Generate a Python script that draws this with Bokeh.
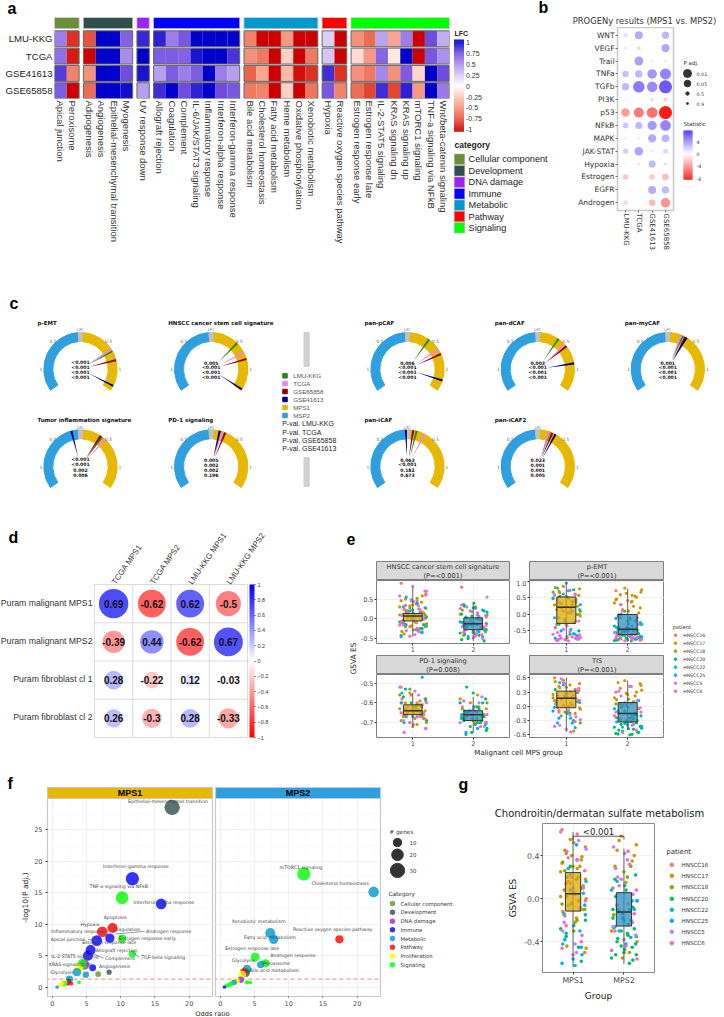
import math
from bokeh.plotting import figure
from bokeh.layouts import column, row
from bokeh.models import (Range1d, FixedTicker, LinearColorMapper, ColorBar, Spacer, LinearAxis)
from bokeh.core.properties import value
from bokeh.embed import file_html
from bokeh.resources import INLINE

SANS = "Liberation Sans"
DJ = "DejaVu Sans"

# ---------- panel a data ----------
A_ROWS = ["LMU-KKG", "TCGA", "GSE41613", "GSE65858"]
A_GROUPS = ["Cellular component", "Development", "DNA damage", "Immune", "Metabolic", "Pathway", "Signaling"]
A_COLORS = ["#6B8E3A", "#2F4F4F", "#A020F0", "#0000FF", "#0099CC", "#FF0000", "#00FF00"]
A_LABELS = [["Apical junction", "Peroxisome"],
            ["Adipogenesis", "Angiogenesis", "Epithelial-mesenchymal transition", "Myogenesis"],
            ["UV response down"],
            ["Allograft rejection", "Coagulation", "Complement", "IL-6/JAK/STAT3 signaling", "Inflammatory response", "Interferon-alpha response", "Interferon-gamma response"],
            ["Bile acid metabolism", "Cholesterol homeostasis", "Fatty acid metabolism", "Heme metabolism", "Oxidative phosphorylation", "Xenobiotic metabolism"],
            ["Hypoxia", "Reactive oxygen species pathway"],
            ["Estrogen response early", "Estrogen response late", "IL-2-STAT5 signaling", "KRAS signaling dn", "KRAS signaling up", "mTORC1 signaling", "TNF-a signaling via NFkB", "Wnt/beta-catenin signaling"]]
A_LMU = [.55, -.85, -.75, 1, 1, .68, .88, .9, .55, .72, 1, 1, 1, 1, -.55, -1, -1, -.45, -1, -1, .22, -1, -.5, -.65, .4, -.4, .55, -1, .75, .35]
A_TCGA = [.62, -.92, -1, 1, 1, .5, 1, .7, .7, .68, .93, 1, 1, .83, -.5, -.6, -1, -.2, -1, -.6, .25, -1, -.15, -.45, .65, -.1, 1, -1, .72, .48]
A_G41 = [.82, -.55, -.5, 1, 1, .75, .93, .42, .7, .55, .7, 1, .55, .42, -.7, -.4, -1, -.3, -.95, -.85, .85, -.85, -.5, -.6, .52, -.5, .7, -.18, 1, .75]
A_G65 = [.7, -1, -.65, 1, 1, .95, .42, .85, 1, .75, .9, 1, .75, .72, -.6, -.55, -1, -.2, -1, -.62, .72, -.55, -.65, -.8, .85, -.8, .9, -.45, 1, .58]

# ---------- panel b data ----------
B_COLS = ["LMU-KKG", "TCGA", "GSE41613", "GSE65858"]
B_ROWS = ["WNT", "VEGF", "Trail", "TNFa", "TGFb", "PI3K", "p53", "NFkB", "MAPK", "JAK-STAT", "Hypoxia", "Estrogen", "EGFR", "Androgen"]
B_STAT = [[1, 3, .3, 2.5], [.8, -1.5, 0, 3], [.2, 3.3, .7, .7], [2.2, 2.5, 3.6, 4.3], [2.4, 4.6, 4, 5.8],
          [-.5, -.1, 1, -1.7], [-3.4, -4.6, -5, -8], [2, 2.5, 3.5, 4.2], [.6, .6, 3, 2.6], [1.7, 3.1, .7, 1.4],
          [-.5, -1, 2.4, .9], [-2, -.2, -1.9, -2.3], [.2, .1, 2.9, 2.4], [-1.5, -.1, -2.4, -3.8]]
B_LOGP = [[.9, 2, .05, 1.8], [.4, .6, 0, 2.1], [0, 2.3, .3, .4], [1.5, 1.8, 2.5, 3], [1.8, 3.2, 2.8, 3.7],
          [.2, .05, .6, .8], [2.2, 2.7, 2.9, 3.7], [1.2, 1.7, 2.4, 2.9], [.3, .3, 2.1, 1.9], [1.1, 2.2, .3, 1],
          [.2, .5, 1.7, .6], [1.2, .05, 1.1, 1.5], [.05, .03, 2, 1.7], [.8, .03, 1.5, 2.5]]

# ---------- panel c data ----------
C_NAMES = ["p-EMT", "HNSCC cancer stem cell signature", "pan-pCAF", "pan-dCAF", "pan-myCAF",
           "Tumor inflammation signature", "PD-1 signaling", "pan-iCAF", "pan-iCAF2"]
C_LMU = [.67, .50, .40, .38, .27, .40, .17, .16, .21]
C_TCGA = [.64, .70, .64, .54, .24, .47, .19, .31, .20]
C_G65 = [.84, .82, .73, .57, .32, .37, .25, .10, .26]
C_G41 = [1.30, 1.37, 1.20, .90, .34, -.16, .15, -.03, .32]
C_P = [["<0.001", "<0.001", "<0.001", "<0.001"], ["0.005", "<0.001", "<0.001", "<0.001"],
       ["0.006", "<0.001", "<0.001", "<0.001"], ["0.003", "<0.001", "<0.001", "<0.001"],
       ["0.001", "<0.001", "<0.001", "<0.001"], ["<0.001", "<0.001", "0.002", "0.006"],
       ["0.005", "0.002", "0.002", "0.196"], ["0.063", "<0.001", "0.182", "0.673"],
       ["0.023", "0.001", "0.001", "0.005"]]
C_LEG = ["LMU-KKG", "TCGA", "GSE65858", "GSE41613", "MPS1", "MSP2"]
C_LEGCOL = ["#228B22", "#EE82EE", "#8B0000", "#00008B", "#E7B800", "#2E9FDF"]
C_PV = ["P-val. LMU-KKG", "P-val. TCGA", "P-val. GSE65858", "P-val. GSE41613"]

# ---------- panel d data ----------
D_COLS = ["TCGA MPS1", "TCGA MPS2", "LMU-KKG MPS1", "LMU-KKG MPS2"]
D_ROWS = ["Puram malignant MPS1", "Puram malignant MPS2", "Puram fibroblast cl 1", "Puram fibroblast cl 2"]
D_VALS = [[.69, -.62, .62, -.5], [-.39, .44, -.62, .67], [.28, -.22, .12, -.03], [.26, -.3, .28, -.33]]

# ---------- patients (panels e, g) ----------
PATIENTS = ["HNSCC16", "HNSCC17", "HNSCC18", "HNSCC20", "HNSCC22", "HNSCC25", "HNSCC5", "HNSCC6"]
PAT_COL = dict(zip("abcdefgh", ["#F8766D", "#CD9600", "#7CAE00", "#00BE67", "#00BFC4", "#00A9FF", "#C77CFF", "#FF61CC"]))

E1G1 = dict(a=[.9, .45, -.2], b=[.62, .5, .42, .35, .3, .25, .2, .15, .12, .08, .05, .02, -.02, -.06, -.1, -.15, -.2, -.28, -.38, .58, .46, .38, .33, .27, .22, .18, .14, .1, .06, .03, 0, -.04, -.08, -.12, -.18, -.24, -.32],
            c=[.38, .18, .1, -.03, -.12, -.25, -.42, .52, .28, .04, -.2, -.35], d=[.22, -.08, -.3, .12, -.15], e=[.3, .04, -.18, .48, .16, -.1, -.28],
            f=[.55, .28, .13, -.05, -.34, -.45, .4, .2, .02, -.15, -.25], g=[.82, .58, .33, .16, -.01, -.16, -.4, .7, .45, .24, .08, -.08, -.3],
            h=[.7, .44, .24, .07, -.09, -.24, -.44, .6, .34, .16, .02, -.16, -.32])
E1G2 = dict(a=[.8, -.3], b=[.2, .05, -.1, -.2, -.35, .12, -.02, -.15, -.28, -.42], c=[.3, .1, -.15, -.25, .22, 0, -.2, -.33],
            d=[.4, .32, .22, .12, .02, -.05, -.12, -.18, -.24, -.3, -.36, -.42, -.5, -.56, .36, .27, .17, .07, -.02, -.09, -.15, -.21, -.27, -.33, -.39, -.46, -.53],
            e=[.1, -.14, -.28, .04, -.22], f=[.28, -.08, -.33, -.45, .2, -.16, -.38], g=[.55, .18, -.02, -.2, -.38, .3, .08, -.1, -.3, -.5],
            h=[.35, .15, -.06, -.16, -.27, -.4, -.48, .26, .06, -.12, -.22, -.34, -.44])
E2G1 = dict(a=[.6, .1], b=[.85, .78, .7, .62, .55, .48, .4, .33, .25, .15, .05, -.05, -.15, -.25, .82, .74, .66, .58, .52, .44, .36, .29, .2, .1, 0, -.1, -.2, -.3],
            c=[.68, .3, .2, 0, -.3, .5, .1, -.15], d=[.75, -.4, -.6, .55, -.5, -.7], e=[.8, .45, -.1, -.45, .62, .15, -.3, -.6],
            f=[.95, .5, .1, -.5, -.65, -.78, .72, .3, -.2, -.58, -.72], g=[.72, .35, -.2, -.35, -.55, -.7, .58, .05, -.45, -.62, -.75],
            h=[.6, .22, -.6, -.68, -.72, -.75, -.78, -.8, -.7, -.76, .4, -.4, -.52, -.64, -.74, -.66, -.79, -.73])
E2G2 = dict(a=[.72, .4], b=[.8, .68, .6, .52, .42, .35, .25, .15, .05, -.05, -.15, .75, .64, .56, .47, .38, .3, .2, .1, 0, -.1, .45, .58], c=[.1, -.3, -.1, -.45],
            d=[-.2, -.35, -.45, -.52, -.58, -.62, -.66, -.7, -.72, -.75, -.78, -.8, -.6, -.68, -.28, -.4, -.48, -.55, -.6, -.64, -.68, -.71, -.74, -.77, -.79, -.5, -.63, -.7, -.76],
            e=[-.1, -.3, -.5, -.2, -.4, -.62], f=[0, -.25, -.42, -.6, -.72, -.12, -.35, -.52, -.66], g=[.3, -.18, -.4, -.55, -.7, .1, -.3, -.48, -.62, -.75],
            h=[-.4, -.6, -.65, -.7, -.74, -.78, -.5, -.62, -.68, -.72, -.76, -.8])
E3G1 = dict(a=[-.52, -.6], b=[-.55, -.58, -.6, -.61, -.62, -.63, -.64, -.65, -.66, -.67, -.68, -.7, -.56, -.59, -.6, -.62, -.63, -.64, -.65, -.66, -.67, -.69, -.71],
            c=[-.53, -.59, -.63, -.66, -.72, -.56, -.61, -.64, -.68], d=[-.57, -.62, -.69, -.6, -.65], e=[-.55, -.61, -.67, -.58, -.64, -.7],
            f=[-.47, -.6, -.64, -.7, -.73, -.53, -.62, -.67], g=[-.52, -.56, -.62, -.65, -.69, -.54, -.6, -.64, -.67],
            h=[-.58, -.63, -.66, -.68, -.71, -.75, -.61, -.65, -.67, -.7, -.73])
E3G2 = dict(a=[-.66], b=[-.56, -.6, -.63, -.65, -.67, -.69, -.58, -.62, -.64, -.66, -.68, -.7], c=[-.6, -.66, -.7, -.63, -.68],
            d=[-.52, -.58, -.62, -.64, -.66, -.68, -.7, -.72, -.74, -.76, -.69, -.55, -.6, -.63, -.65, -.67, -.69, -.71, -.73, -.75, -.7, -.66, -.62],
            e=[-.65, -.71, -.62, -.68], f=[-.6, -.67, -.73, -.64, -.7, -.75], g=[-.57, -.63, -.7, -.6, -.66, -.72],
            h=[-.59, -.64, -.66, -.68, -.72, -.62, -.65, -.67, -.7])
E4G1 = dict(a=[.6, .3], b=[.55, .48, .42, .36, .3, .25, .2, .15, .1, .05, 0, -.06, -.12, -.52, .52, .45, .39, .33, .27, .22, .17, .12, .07, .02, -.03, -.09, -.15],
            c=[.4, .18, .02, -.2, .29, .1, -.1, -.35], d=[.22, -.3, .35, -.15], e=[.5, .12, -.15, -.35, .32, -.02, -.25], f=[.45, .08, -.25, -.45, .27, -.1, -.35],
            g=[.58, .33, .14, -.08, -.28, .47, .24, .05, -.18, -.4], h=[.38, .2, -.02, -.22, -.42, -.54, .5, .12, -.12, -.32, -.48])
E4G2 = dict(a=[.3, -.2], b=[.54, .44, .38, .3, .25, .18, .1, .02, -.05, .5, .42, .34, .28, .22, .14, .06, -.02, .48], c=[.15, -.15, -.3, .05, -.22],
            d=[-.1, -.2, -.28, -.35, -.4, -.44, -.48, -.52, -.55, -.58, -.6, -.46, -.3, -.15, -.24, -.32, -.38, -.42, -.47, -.5, -.54, -.57, -.59, -.36, -.44],
            e=[.05, -.18, -.36, -.05, -.27, -.44], f=[.12, -.1, -.25, -.42, .02, -.18, -.33], g=[.42, .22, -.03, -.32, .32, .12, -.12, -.4],
            h=[.08, -.12, -.26, -.5, -.02, -.2, -.38, -.55])
GG1 = dict(a=[.64, .6], b=[.55, .48, .42, .36, .3, .25, .2, .16, .12, .08, .04, 0, -.04, -.08, -.12, -.18, -.44, -.5, .52, .45, .39, .33, .28, .22, .18, .14, .1, .06, .02, -.02, -.06, -.1, -.15, -.22, -.46, .4, .3],
           c=[.34, .18, .02, -.1, -.3, .26, .1, -.05, -.2], d=[.3, -.2, -.35, -.58, .1, -.28, -.45], e=[.28, .05, -.14, -.62, .16, -.05, -.3, -.42],
           f=[.5, .2, -.06, -.25, -.38, -.52, -.6, .36, .08, -.15, -.32, -.45, -.56], g=[.62, .54, .38, .1, -.22, -.42, .46, .2, -.1, -.3, -.5],
           h=[.44, .26, .06, -.16, -.34, -.46, .36, .14, -.02, -.25, -.4, -.52])
GG2 = dict(a=[.1, -.05], b=[.58, .5, .45, .35, .25, -.3, -.5, .54, .4, .3, .15, -.4, -.55], c=[.3, -.15, .2, -.1],
           d=[.22, .12, .02, -.08, -.18, -.24, -.3, -.35, -.4, -.45, -.5, -.55, -.6, -.12, -.28, .18, .08, -.02, -.14, -.2, -.27, -.32, -.37, -.42, -.47, -.52, -.57, -.1, -.34, -.44, -.52],
           e=[.16, -.02, -.2, .08, -.1, -.3], f=[-.1, -.26, -.42, -.02, -.18, -.36], g=[.48, .36, .2, -.34, .42, .28, .04, -.26],
           h=[.44, .18, .08, -.06, -.22, -.38, -.48, .32, .12, -.14, -.3, -.44, -.56])
JITTER = [-.8, .3, -.2, .9, -.5, .6, 0, -.9, .4, -.35, .75, -.65, .15, .95, -.1, .5, -.75, .25, -.45, .85, .05, -.6, .65]

# quartile summaries: [q1, median, q3, low whisker, high whisker]
E1Q = [[-.055, .07, .135, -.45, .80], [-.277, -.126, .025, -.56, .395]]
E2Q = [[-.27, .22, .53, -.8, .99], [-.61, -.45, 0, -.82, .78]]
E3Q = [[-.66, -.64, -.61, -.72, -.55], [-.69, -.66, -.64, -.75, -.57]]
E4Q = [[-.03, .17, .32, -.54, .6], [-.33, -.15, .08, -.5, .54]]
GQ = [[-.115, .047, .242, -.636, .62], [-.254, -.124, .056, -.605, .465]]

# ---------- panel f data ----------
F_CATS = ["Cellular component", "Development", "DNA damage", "Immune", "Metabolic", "Pathway", "Proliferation", "Signaling"]
F_COLS = ["#6B8E23", "#2F4F4F", "#A020F0", "#0000FF", "#0099CC", "#FF0000", "#FFFF00", "#00FF00"]
F1_X = [17.5, 11.7, 10.2, 15.9, 8.8, 7.3, 8.4, 10.2, 6.5, 5.6, 5.2, 4.7, 4.4, 3.9, 11.7, 5.9, 3.6, 4.9, 6.7, 8.3, 2.5, 2.4, 2.8, 2.3, 1.9, 1.7, 1.5, 1.2, .7, 3.9]
F1_Y = [28.5, 17.2, 14.2, 13.2, 9.4, 8.8, 7.8, 7.7, 7.4, 5.9, 5.0, 3.6, 3.7, 3.1, 5.3, 3.1, 2.4, 2.0, 2.1, 2.4, 1.3, 1.0, .6, .6, .8, .6, .6, .4, .05, .8]
F1_N = [35, 26, 24, 17, 15, 17, 13, 10, 17, 15, 15, 15, 14, 10, 8, 7, 10, 6, 5, 4, 8, 4, 2, 3, 3, 5, 3, 3, 2, 2]
F1_C = [1, 3, 7, 3, 5, 5, 3, 7, 3, 3, 3, 2, 7, 6, 7, 3, 4, 4, 0, 1, 4, 1, 5, 5, 6, 7, 6, 6, 4, 7]
F2_X = [12.2, 22.4, 7.3, 7.8, 17.4, 5.1, 6.6, 5.9, 3.9, 3.7, 3.4, 3.2, 3.0, 2.4, 2.0, 1.5, 1.0, .6, 3.9, 4.4]
F2_Y = [17.95, 15.1, 8.6, 7.6, 7.6, 4.8, 3.8, 3.6, 2.9, 2.3, 2.5, 2.0, 1.2, 1.0, .8, .5, .3, .05, .8, .8]
F2_N = [26, 17, 15, 13, 10, 12, 10, 8, 11, 11, 6, 9, 6, 6, 5, 4, 3, 2, 3, 2]
F2_C = [7, 4, 4, 4, 5, 7, 7, 4, 4, 1, 5, 6, 2, 6, 4, 7, 7, 3, 7, 7]
F1_LAB = ["Epithelial-mesenchymal transition", "Interferon-gamma response", "TNF-a signaling via NFkB", "Interferon-alpha response", "Apoptosis", "Hypoxia", "Inflammatory response", "Coagulation", "Androgen response", "Apical junction", "Estrogen response early", "Estrogen response late", "Allograft rejection", "IL-2-STAT5 signaling", "Complement", "TGF-beta signaling", "KRAS signaling dn", "Angiogenesis", "Glycolysis"]
F1_LX = [16.9, 12.2, 9.7, 16.3, 9.2, 5.5, 3.8, 10.8, 17.0, 2.3, 13.9, 8.3, 9.4, 3.3, 9.9, 16.2, 2.6, 9.1, 1.4]
F1_LY = [29.4, 19.1, 16.0, 13.5, 11.0, 9.9, 8.8, 9.2, 8.9, 7.6, 7.8, 7.05, 5.9, 4.9, 4.6, 4.8, 3.6, 3.3, 2.3]
F2_LAB = ["mTORC1 signaling", "Cholesterol homeostasis", "Xenobiotic metabolism", "Reactive oxygen species pathway", "Fatty acid metabolism", "Estrogen response late", "Androgen response", "Glycolysis", "Peroxisome", "Bile acid metabolism"]
F2_LX = [11.8, 17.5, 5.6, 16.4, 7.25, 4.65, 10.6, 3.4, 8.2, 7.9]
F2_LY = [18.95, 16.5, 10.4, 9.2, 7.9, 6.2, 5.1, 4.25, 3.8, 2.7]
F_GENES = [10, 20, 30]


def lerp_hex(a, b, t):
    ca = [int(a[i:i + 2], 16) for i in (1, 3, 5)]
    cb = [int(b[i:i + 2], 16) for i in (1, 3, 5)]
    return "#%02X%02X%02X" % tuple(round(x + (y - x) * t) for x, y in zip(ca, cb))


def stops_color(v, stops):
    v = min(max(v, stops[0][0]), stops[-1][0])
    for (v0, c0), (v1, c1) in zip(stops, stops[1:]):
        if v <= v1:
            return lerp_hex(c0, c1, (v - v0) / (v1 - v0))
    return stops[-1][1]


HEAT = [(-1, "#CC0000"), (-.75, "#E8573E"), (-.5, "#F4917A"), (-.25, "#FDC5B6"), (0, "#FFFFFF"),
        (.25, "#D5C8F6"), (.5, "#A88CEB"), (.75, "#7350DE"), (1, "#0000CC")]
heat_pal = [stops_color(-1 + 2 * i / 100, HEAT) for i in range(101)]
heat_map = LinearColorMapper(palette=heat_pal, low=-1, high=1)
STAT = [(-8.3, "#FF1010"), (0, "#FFFFFF"), (7.6, "#3F24FF")]
COR = [(-1, "#FF0000"), (0, "#FFFFFF"), (1, "#0000FF")]
cor_pal = [stops_color(-1 + 2 * i / 100, COR) for i in range(101)]
cor_map = LinearColorMapper(palette=cor_pal, low=-1, high=1)


def canvas(x0, y0, x1, y1):
    p = figure(width=x1 - x0, height=y1 - y0, x_range=Range1d(x0, x1), y_range=Range1d(-y1, -y0),
               toolbar_location=None, output_backend="svg", min_border=0, tools="",
               x_axis_type=None, y_axis_type=None)
    p.outline_line_color = None
    return p


def T(p, x, y, s, size=7, font=SANS, color="#222222", align="left", weight="normal", angle=0):
    p.text(x=[x], y=[-y], text=[s], text_font=value(font), text_font_size=f"{size}px", text_align=align,
           text_baseline="middle", text_color=color, text_font_style=weight, angle=angle)


def plot(w, h, l, r, t, b, xr, yr):
    p = figure(width=w, height=h, min_border_left=l, min_border_right=r, min_border_top=t, min_border_bottom=b,
               x_range=Range1d(*xr), y_range=Range1d(*yr), toolbar_location=None, output_backend="svg", tools="")
    return p


def style(ax, size, color="#4d4d4d", font=DJ, tick="#333333", tlen=2):
    ax.major_label_text_font_size = f"{size}px"
    ax.major_label_text_font = font
    ax.major_label_text_color = color
    ax.axis_line_color = None
    ax.major_tick_line_color = tick
    ax.major_tick_out = tlen
    ax.major_tick_in = 0
    ax.minor_tick_line_color = None
    ax.major_label_standoff = 1


def ticks(ax, vals, labels):
    ax.ticker = FixedTicker(ticks=vals)
    ax.major_label_overrides = dict(zip(vals, labels))


def L(p, x, y, s):
    T(p, x, y, s, 16, SANS, "#000000", weight="bold")


def vbar_legend(p, x0, x1, ytop, ybot, v_at_top, v_at_bot, stops):
    n = int(ybot - ytop)
    tops = [ytop + (ybot - ytop) * i / n for i in range(n)]
    cols = [stops_color(v_at_top + (v_at_bot - v_at_top) * (i + .5) / n, stops) for i in range(n)]
    p.quad(left=[x0] * n, right=[x1] * n, top=[-t for t in tops], bottom=[-(t + (ybot - ytop) / n + .2) for t in tops],
           fill_color=cols, line_color=None)


# ================= panel a =================
a_top = canvas(0, 0, 450, 17)
L(a_top, 7, 8, "a")
pa = plot(450, 273, 54, 1, 0, 192, (0, 32.1), (-.45, 4.23))
pa.grid.visible = False
pa.outline_line_color = None
xpos, groups_x, off = [], [], 0.0
for g in A_LABELS:
    s = off
    for _ in g:
        xpos.append(round(off + .5, 2))
        off += 1
    groups_x.append((s, off))
    off += .35
for ri, vals in enumerate([A_LMU, A_TCGA, A_G41, A_G65]):
    y = 3 - ri
    pa.rect(x="x", y="y", width=1.0, height=.92, fill_color={"field": "v", "transform": heat_map},
            line_color=None, source=dict(x=xpos, y=[y] * 30, v=vals))
    pa.quad(left=[g[0] for g in groups_x], right=[g[1] for g in groups_x], top=[y + .46] * 7, bottom=[y - .46] * 7,
            fill_color=None, line_color="#666666", line_width=1)
pa.quad(left=[g[0] for g in groups_x], right=[g[1] for g in groups_x], top=[3.91 + .32] * 7, bottom=[3.91 - .32] * 7,
        fill_color=A_COLORS, line_color="#bbbbbb", line_width=.8)
style(pa.xaxis[0], 9.5, "#333333", SANS, None, 0)
ticks(pa.xaxis[0], xpos, [s for g in A_LABELS for s in g])
pa.xaxis[0].major_label_orientation = "vertical"
pa.xaxis[0].major_label_standoff = 2
style(pa.yaxis[0], 9.6, "#222222", SANS, None, 0)
ticks(pa.yaxis[0], [3, 2, 1, 0], A_ROWS)
pa.yaxis[0].major_label_standoff = 2

al = canvas(450, 0, 562, 290)
T(al, 454, 33, "LFC", 7, weight="bold")
vbar_legend(al, 453.5, 463.5, 39, 131, 1.07, -1.05, HEAT)
tv = ["1", "0.75", "0.5", "0.25", "0", "-0.25", "-0.5", "-0.75", "-1"]
for i, s in enumerate(tv):
    T(al, 465.5, 42 + i * 10.9, s, 7, SANS, "#333333")
T(al, 454, 144, "category", 8.5, weight="bold")
cat_y = [158.7, 170.3, 181.7, 193.3, 204.7, 216, 227.3]
al.rect(x=[459] * 7, y=[-v for v in cat_y], width=10.5, height=10.5, fill_color=A_COLORS, line_color="#bbbbbb", line_width=.6)
for y, s in zip(cat_y, A_GROUPS):
    T(al, 468, y, s, 9.2, color="#222222")
L(al, 538, 7, "b")

# ================= panel b =================
bt = canvas(562, 0, 724, 27)
T(bt, 644, 20, "PROGENy results (MPS1 vs. MPS2)", 8.4, DJ, "#333333", "center")
pb = plot(114, 263, 55, 3, 0, 80, (.4, 4.6), (.4, 14.6))
pb.grid.visible = False
pb.outline_line_color = "#c8c8c8"
pb.outline_line_width = 1.5
bx, by, br, bc = [], [], [], []
for i, name in enumerate(B_ROWS):
    for j in range(4):
        bx.append(j + 1)
        by.append(14 - i)
        br.append(2 * (1 + 1.5 * B_LOGP[i][j]))
        bc.append(stops_color(B_STAT[i][j], STAT))
pb.scatter(bx, by, size=br, fill_color=bc, line_color=None, marker="circle")
style(pb.xaxis[0], 7, "#333333", DJ, "#666666", 2)
ticks(pb.xaxis[0], [1, 2, 3, 4], B_COLS)
pb.xaxis[0].major_label_orientation = "vertical"
style(pb.yaxis[0], 7.5, "#333333", DJ, "#666666", 2)
ticks(pb.yaxis[0], list(range(14, 0, -1)), B_ROWS)
bl = canvas(676, 27, 724, 290)
T(bl, 683, 62, "P adj.", 5.5, DJ, "#333333")
leg_y = [73, 83, 93, 103]
bl.scatter([687] * 4, [-v for v in leg_y], size=[8, 6.6, 3.4, 2], color="#333333", marker="circle")
for y, s in zip(leg_y, ["0.01", "0.05", "0.5", "0.9"]):
    T(bl, 696, y, s, 4.8, DJ, "#333333")
T(bl, 683, 123, "Statistic", 5.5, DJ, "#333333")
vbar_legend(bl, 683, 692, 130, 179, 7.6, -8.3, STAT)
for y, s in zip([141, 153, 165, 178], ["4", "0", "-4", "-8"]):
    T(bl, 696, y, s, 4.8, DJ, "#333333")

# ================= panel c =================
pc = canvas(0, 290, 724, 515)
L(pc, 9, 303, "c")
C_POS = [(80, 368.7), (210.7, 368.7), (407, 368.7), (537.3, 368.7), (667.3, 368.7),
         (80, 466), (210.7, 466), (407, 466), (537.3, 466)]
NEEDLE = ["#228B22", "#EE82EE", "#8B0000", "#00008B"]
R0, R1 = 27.7, 36.7
for k, (cx, cy) in enumerate(C_POS):
    d2r = math.pi / 180
    pc.annular_wedge(x=[cx], y=[-cy], inner_radius=R0, outer_radius=R1, start_angle=93.5 * d2r, end_angle=215 * d2r, color="#2E9FDF", direction="anticlock")
    pc.annular_wedge(x=[cx], y=[-cy], inner_radius=R0, outer_radius=R1, start_angle=-35 * d2r, end_angle=86.5 * d2r, color="#E7B800", direction="anticlock")
    pc.annular_wedge(x=[cx], y=[-cy], inner_radius=R0, outer_radius=R1, start_angle=86.5 * d2r, end_angle=93.5 * d2r, color="#C0C0C0", direction="anticlock")
    for lfc, col in zip([C_LMU[k], C_TCGA[k], C_G65[k], C_G41[k]], NEEDLE):
        a = lfc * 90 * d2r
        dx, dy = math.sin(a), math.cos(a)
        nx, ny = dy, -dx
        px0, py0 = cx + dx * 9.5, -cy + dy * 9.5
        px1, py1 = cx + dx * R1, -cy + dy * R1
        pc.patch([px0, px1 + nx * 1.1, px1 - nx * 1.1], [py0, py1 + ny * 1.1, py1 - ny * 1.1], color=col, line_color=None)
    T(pc, cx - 43, cy - 46.7, C_NAMES[k], 5.5, DJ, "#111111", weight="bold")
    T(pc, cx, cy - 39.5, "LFC", 3.8, DJ, "#666666", "center")
    T(pc, cx - 27.5, cy - 27.8, "0.5", 4.4, DJ, "#666666", "center")
    T(pc, cx + 28, cy - 27.8, "0.5", 4.4, DJ, "#666666", "center")
    T(pc, cx - 39.5, cy, "1", 4.4, DJ, "#666666", "center")
    T(pc, cx + 39.5, cy, "1", 4.4, DJ, "#666666", "center")
    for o, s in zip([-6.7, -1.7, 3.3, 8.3], C_P[k]):
        T(pc, cx, cy + o, s, 4.6, DJ, "#111111", "center", "bold")
pc.quad(left=[303.5, 303.5], right=[308.7, 308.7], top=[-332, -457], bottom=[-366, -486], color="#D0D0D0")
for y, s, col in zip([375.3, 383, 391, 399, 407, 415], C_LEG, C_LEGCOL):
    pc.rect(x=[284.5], y=[-y], width=4.5, height=4.5, color=col)
    T(pc, 292.7, y, s, 6.2, SANS, "#555555")
for y, s in zip([423.3, 431.7, 440, 448.3], C_PV):
    T(pc, 281.7, y, s, 7, SANS, "#222222")

# ================= panel d =================
dl = canvas(0, 515, 94, 770)
L(dl, 8, 537, "d")
for i, s in enumerate(D_ROWS):
    T(dl, 92, 584 + 38.25 * (i + .5) - 1, s, 8.7, SANS, "#333333", "right")
pd_ = plot(248, 255, 0, 95, 69, 33, (0, 4), (0, 4))
pd_.grid.visible = False
pd_.outline_line_color = "#dcdcdc"
pd_.xaxis[0].visible = False
pd_.yaxis[0].visible = False
top_ax = LinearAxis()
pd_.add_layout(top_ax, "above")
style(top_ax, 8, "#333333", SANS, None, 0)
ticks(top_ax, [.5, 1.5, 2.5, 3.5], D_COLS)
top_ax.major_label_orientation = math.radians(55)
pd_.segment(x0=[1, 2, 3, 0, 0, 0], y0=[0, 0, 0, 1, 2, 3], x1=[1, 2, 3, 4, 4, 4], y1=[4, 4, 4, 1, 2, 3], color="#dcdcdc", line_width=1)
dx, dy, dv, ds = [], [], [], []
for i in range(4):
    for j in range(4):
        dx.append(j + .5)
        dy.append(3.5 - i)
        dv.append(D_VALS[i][j])
        ds.append(2 * 17.7 * math.sqrt(abs(D_VALS[i][j])))
pd_.scatter("x", "y", size="s", marker="circle", line_color=None, fill_color={"field": "v", "transform": cor_map},
            source=dict(x=dx, y=dy, v=dv, s=ds))
pd_.text(x=dx, y=dy, text=[("%.2f" % v).rstrip("0") for v in dv], text_font=value(SANS), text_font_style="bold",
         text_font_size="10px", text_align="center", text_baseline="middle", text_color="#111111")
pd_.add_layout(ColorBar(color_mapper=cor_map, ticker=FixedTicker(ticks=[-1, -.8, -.6, -.4, -.2, 0, .2, .4, .6, .8, 1]),
                        location=(155, 0), width=5, height=153, padding=0, margin=0, major_label_text_font=SANS,
                        major_label_text_font_size="5.5px", major_label_text_color="#333333", major_tick_line_color="#333333", major_tick_out=1, major_tick_in=0,
                        bar_line_color=None, border_line_color=None, background_fill_color=None, label_standoff=2))


# ================= helpers for jitter + boxes =================
def pts(D, xc, hw):
    xs, ys, cs = [], [], []
    i = 0
    for k in "abcdefgh":
        for v in D.get(k, []):
            xs.append(xc + JITTER[i % len(JITTER)] * hw)
            ys.append(v)
            cs.append(PAT_COL[k])
            i += 1
    return xs, ys, cs


def draw_group(p, D1, D2, Q, size, hw, box):
    for D, xc in ((D1, 1), (D2, 2)):
        xs, ys, cs = pts(D, xc, hw)
        p.scatter(xs, ys, size=size, color=cs, marker="circle", line_color=None)
    p.segment(x0=[1, 2], x1=[1, 2], y0=[q[3] for q in Q], y1=[q[4] for q in Q], color="#555555", line_width=.9)
    p.quad(left=[1 - box, 2 - box], right=[1 + box, 2 + box], bottom=[q[0] for q in Q], top=[q[2] for q in Q],
           fill_color=["#D9A90A", "#2A8FC0"], fill_alpha=.75, line_color="#333333", line_width=1)
    p.segment(x0=[1 - box, 2 - box], x1=[1 + box, 2 + box], y0=[q[1] for q in Q], y1=[q[1] for q in Q], color="#333333", line_width=1.5)


# ================= panel e =================
el = canvas(342, 515, 357, 770)
L(el, 346, 538, "e")
T(el, 352.5, 658, "GSVA ES", 7.5, DJ, "#222222", "center", angle=math.pi / 2)


def facet(w, left, right, bottom, yr, yt, ytl, t1, t2, D1, D2, Q):
    h = figure(width=w, height=19, min_border_left=left, min_border_right=right, min_border_top=0, min_border_bottom=0,
               x_range=Range1d(0, 1), y_range=Range1d(0, 1), toolbar_location=None, output_backend="svg", tools="",
               x_axis_type=None, y_axis_type=None, background_fill_color="#D9D9D9")
    h.outline_line_color = "#7f7f7f"
    h.text(x=[.5, .5], y=[.72, .26], text=[t1, t2], text_font=value(DJ), text_font_size="6.6px", text_align="center",
           text_baseline="middle", text_color="#333333")
    p = plot(w, 63 + bottom, left, right, 0, bottom, (.4, 2.6), yr)
    p.outline_line_color = "#7f7f7f"
    p.grid.grid_line_color = "#ebebeb"
    p.grid.grid_line_width = .7
    style(p.xaxis[0], 6.5, "#4d4d4d", DJ, "#333333", 2)
    ticks(p.xaxis[0], [1, 2], ["1", "2"])
    style(p.yaxis[0], 6.5, "#4d4d4d", DJ, "#333333", 2)
    ticks(p.yaxis[0], yt, ytl)
    draw_group(p, D1, D2, Q, 3.2, .24, .155)
    return column(h, p)


f1 = facet(153, 15, 1, 12, (-.626, .97), [.5, 0, -.5], ["0.5", "0.0", "-0.5"], "HNSCC cancer stem cell signature", "(P=<0.001)", E1G1, E1G2, E1Q)
f2 = facet(154, 17, 0, 12, (-.88, 1.03), [1, .5, 0, -.5], ["1.0", "0.5", "0.0", "-0.5"], "p-EMT", "(P=<0.001)", E2G1, E2G2, E2Q)
f3 = facet(153, 15, 1, 11, (-.776, -.456), [-.5, -.6, -.7], ["-0.5", "-0.6", "-0.7"], "PD-1 signaling", "(P=0.008)", E3G1, E3G2, E3Q)
f4 = facet(154, 17, 0, 11, (-.656, .67), [.6, .3, 0, -.3, -.6], ["0.6", "0.3", "0.0", "-0.3", "-0.6"], "TIS", "(P=<0.001)", E4G1, E4G2, E4Q)
ele = canvas(664, 561, 724, 748)
T(ele, 672, 626, "patient", 5.2, DJ, "#333333")
ey = [634.7, 642.7, 650.7, 658.7, 666.7, 674.7, 682.7, 690.7]
ele.scatter([675] * 8, [-v for v in ey], size=2.6, color=[PAT_COL[k] for k in "abcdefgh"], marker="circle")
for y, s in zip(ey, PATIENTS):
    T(ele, 682.7, y, s, 4.6, DJ, "#333333")
ebot = canvas(357, 748, 724, 770)
T(ebot, 518, 752, "Malignant cell MPS group", 7, DJ, "#222222", "center")
e_main = column(Spacer(width=367, height=46), row(column(f1, f3), column(f2, f4), column(ele)), column(ebot))


# ================= panel f =================
def f_header(x0, x1, fx0, fx1, col, text):
    h = canvas(x0, 770, x1, 798)
    h.quad(left=[fx0], right=[fx1], top=[-787], bottom=[-798], fill_color=col, line_color="#c8c8c8", line_width=1.2)
    T(h, (fx0 + fx1) / 2, 792.5, text, 9, SANS, "#000000", "center", "bold")
    return h


def f_plot(w, l, r, X, Y, N, C, LAB, LX, LY, show_y):
    p = plot(w, 210, l, r, 0, 9, (-.7, 23.4), (-1.45, 29.9))
    p.outline_line_color = "#c8c8c8"
    p.outline_line_width = 1.2
    p.grid.grid_line_color = "#e8e8e8"
    p.grid.grid_line_width = .6
    p.grid.minor_grid_line_color = "#f3f3f3"
    p.grid.minor_grid_line_width = .4
    style(p.xaxis[0], 6.5, "#4d4d4d", DJ, "#333333", 1)
    p.xaxis[0].major_label_standoff = 0
    p.xaxis[0].ticker = FixedTicker(ticks=[0, 5, 10, 15, 20], minor_ticks=[2.5, 7.5, 12.5, 17.5, 22.5])
    style(p.yaxis[0], 6.5, "#4d4d4d", DJ, "#333333", 2)
    p.yaxis[0].ticker = FixedTicker(ticks=[0, 5, 10, 15, 20, 25], minor_ticks=[2.5, 7.5, 12.5, 17.5, 22.5, 27.5])
    p.yaxis[0].visible = show_y
    if show_y:
        p.yaxis[0].axis_label = "-log10(P adj.)"
        p.yaxis[0].axis_label_text_font = DJ
        p.yaxis[0].axis_label_text_font_size = "7.5px"
        p.yaxis[0].axis_label_text_font_style = "normal"
        p.yaxis[0].axis_label_text_color = "#222222"
        p.yaxis[0].axis_label_standoff = 1
    p.segment(x0=[-1], x1=[24], y0=[1.3], y1=[1.3], color="#FF8080", line_width=1.2, line_dash="4 3", line_alpha=.8)
    p.scatter(X, Y, size=[2 * 1.3 * math.sqrt(n) for n in N], color=[F_COLS[c] for c in C], marker="circle", line_color=None, alpha=.8)
    p.text(x=LX, y=LY, text=LAB, text_font=value(DJ), text_font_size="4.7px", text_align="center", text_baseline="middle", text_color="#444444")
    return p


pf1 = f_plot(214, 47, 2, F1_X, F1_Y, F1_N, F1_C, F1_LAB, F1_LX, F1_LY, True)
pf1.segment(x0=[13.5, 5.2, 7.5, 12.65], y0=[8.87, 7.6, 4.6, 4.8], x1=[9.25, 6.5, 5.35, 11.7], y1=[8.45, 7.4, 5.6, 5.6], color="#555555", line_width=.6)
pf2 = f_plot(168, 1, 2, F2_X, F2_Y, F2_N, F2_C, F2_LAB, F2_LX, F2_LY, False)
h1 = f_header(0, 214, 47, 212, "#E7B800", "MPS1")
L(h1, 7, 783, "f")
h2 = f_header(214, 382, 215, 380, "#2E9FDF", "MPS2")
fbot = canvas(0, 1008, 382, 1017)
T(fbot, 212, 1010.5, "Odds ratio", 6.6, DJ, "#222222", "center")
f_main = column(row(column(column(h1), pf1), column(column(h2), pf2)), column(fbot))

fl = canvas(382, 770, 478, 1017)
L(fl, 458, 784, "g")
T(fl, 388.7, 831, "# genes", 5.8, DJ, "#333333")
for y, n in zip([842, 854.3, 870], F_GENES):
    fl.scatter([397], [-y], size=2 * 1.3 * math.sqrt(n), color="#333333", marker="circle")
    T(fl, 409, y, str(n), 5.4, DJ, "#333333")
T(fl, 388, 893, "Category", 5.8, DJ, "#333333")
cy = [903, 911.7, 920.7, 929.3, 938, 946.7, 955.3, 964.3]
fl.scatter([392] * 8, [-v for v in cy], size=5.4, color=F_COLS, alpha=.8, marker="circle", line_color=None)
for y, s in zip(cy, F_CATS):
    T(fl, 400, y, s, 5.3, DJ, "#333333")

# ================= panel g =================
gt = canvas(478, 770, 724, 823)
T(gt, 599, 813, "Chondroitin/dermatan sulfate metabolism", 10, DJ, "#222222", "center")
pg = plot(186, 194, 64, 10, 0, 45, (.4, 2.6), (-.685, .698))
pg.outline_line_color = "#8a8a8a"
pg.outline_line_width = 1
pg.grid.grid_line_color = "#ebebeb"
pg.grid.grid_line_width = .7
style(pg.xaxis[0], 7.8, "#4d4d4d", DJ, "#333333", 2)
ticks(pg.xaxis[0], [1, 2], ["MPS1", "MPS2"])
style(pg.yaxis[0], 7.8, "#4d4d4d", DJ, "#333333", 2)
ticks(pg.yaxis[0], [.4, 0, -.4], ["0.4", "0.0", "-0.4"])
draw_group(pg, GG1, GG2, GQ, 3.6, .27, .15)
pg.segment(x0=[1, 2, 1], x1=[2, 2, 1], y0=[.58, .58, .58], y1=[.58, .55, .54], color="#333333", line_width=.8)
pg.text(x=[1.5], y=[.62], text=["<0.001"], text_font=value(DJ), text_font_size="8.5px", text_align="center", text_baseline="middle", text_color="#222222")
pg.xaxis[0].axis_label = "Group"
pg.yaxis[0].axis_label = "GSVA ES"
for ax in (pg.xaxis[0], pg.yaxis[0]):
    ax.axis_label_text_font = DJ
    ax.axis_label_text_font_size = "9px"
    ax.axis_label_text_font_style = "normal"
    ax.axis_label_text_color = "#222222"
    ax.axis_label_standoff = 3
gl = canvas(664, 823, 724, 1017)
T(gl, 665.7, 851.7, "patient", 7, DJ, "#333333")
gy = [864.3, 875.3, 886.7, 898.3, 909.3, 920.3, 931.3, 942.7]
gl.scatter([671.3] * 8, [-v for v in gy], size=3.5, color=[PAT_COL[k] for k in "abcdefgh"], marker="circle")
for y, s in zip(gy, PATIENTS):
    T(gl, 681, y, s, 5.6, DJ, "#333333")
g_main = column(column(gt), row(pg, column(gl)))

# ================= assembly =================
rowA = row(column(column(a_top), pa), column(al), column(column(bt), row(pb, column(bl))))
rowD = row(column(dl), pd_, column(el), e_main)
rowF = row(f_main, column(fl), g_main)
root = column(rowA, column(pc), rowD, rowF)
open("out.html", "w").write(file_html(root, INLINE))
